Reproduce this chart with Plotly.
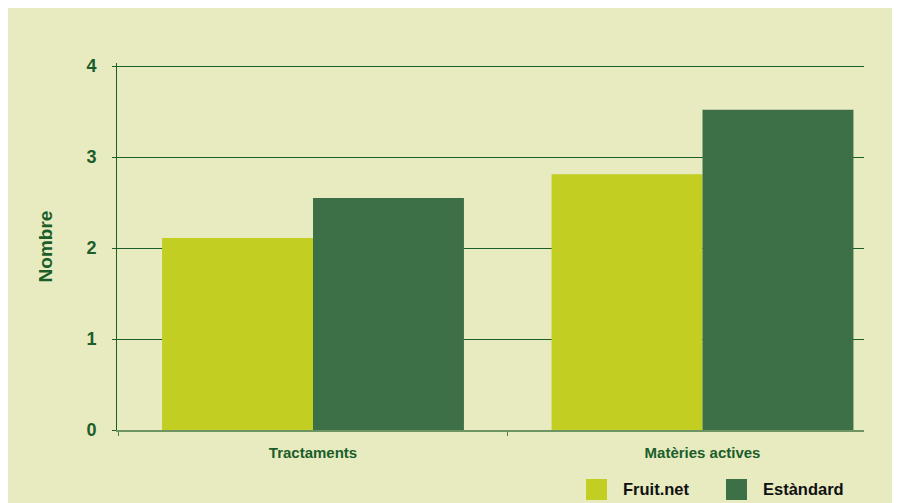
import plotly.graph_objects as go

categories = ["Tractaments", "Matèries actives"]
fruitnet = [2.11, 2.81]
estandard = [2.55, 3.52]
series_names = ["Fruit.net", "Estàndard"]
series_colors = ["#c2ce22", "#3d7046"]
y_ticks = [0, 1, 2, 3, 4]

GREEN_TEXT = "#1b5e2a"
BG = "#e8ebc0"

fig = go.Figure()
for name, vals, col in zip(series_names, [fruitnet, estandard], series_colors):
    fig.add_trace(go.Bar(x=categories, y=vals, name=name, showlegend=False,
                         marker=dict(color=col, line=dict(width=0))))

W, H = 892, 495
L, R, T, B = 109, 36, 55, 73
pw, ph = W - L - R, H - T - B


def px_x(x):
    return (x - L) / pw


def px_y(y):
    return (H - B - y) / ph


# manual legend (swatches + labels)
legend_swatch_x = [578, 718]
legend_text_x = [613, 753]
for name, col, sx, tx in zip(series_names, series_colors, legend_swatch_x, legend_text_x):
    fig.add_shape(type="rect", xref="paper", yref="paper",
                  x0=px_x(sx), x1=px_x(sx + 21), y0=px_y(492), y1=px_y(471),
                  fillcolor=col, line=dict(width=0))
    fig.add_annotation(xref="paper", yref="paper", x=px_x(tx), y=px_y(481.5),
                       xanchor="left", yanchor="middle", showarrow=False,
                       text=name, font=dict(size=16.5, color="#111111", weight="bold"))

fig.update_layout(
    width=W, height=H,
    margin=dict(l=L, r=R, t=T, b=B),
    paper_bgcolor=BG,
    plot_bgcolor=BG,
    barmode="group",
    bargap=0.225,
    bargroupgap=0,
    font=dict(family="Liberation Sans, Arial, sans-serif", color=GREEN_TEXT),
    showlegend=False,
    xaxis=dict(
        range=[-0.5032, 1.4146],
        tickson="boundaries",
        ticks="outside", ticklen=4, tickcolor="#4e7f4a",
        showline=True, linecolor="#6f9463", linewidth=1.5,
        showgrid=False,
        tickfont=dict(size=15, color=GREEN_TEXT, weight="bold"),
        ticklabelstandoff=8,
    ),
    yaxis=dict(
        range=[0, 4.033],
        tickvals=y_ticks,
        ticks="outside", ticklen=4, tickcolor="#1b5e2a",
        showline=True, linecolor="#1b5e2a", linewidth=1,
        showgrid=True, gridcolor="#1b5e2a", gridwidth=1,
        zeroline=False,
        tickfont=dict(size=18, color=GREEN_TEXT, weight="bold"),
        ticklabelstandoff=12,
        title=dict(text="Nombre", font=dict(size=19, color=GREEN_TEXT, weight="bold"),
                   standoff=28),
    ),
)

fig.write_html("out.html")
